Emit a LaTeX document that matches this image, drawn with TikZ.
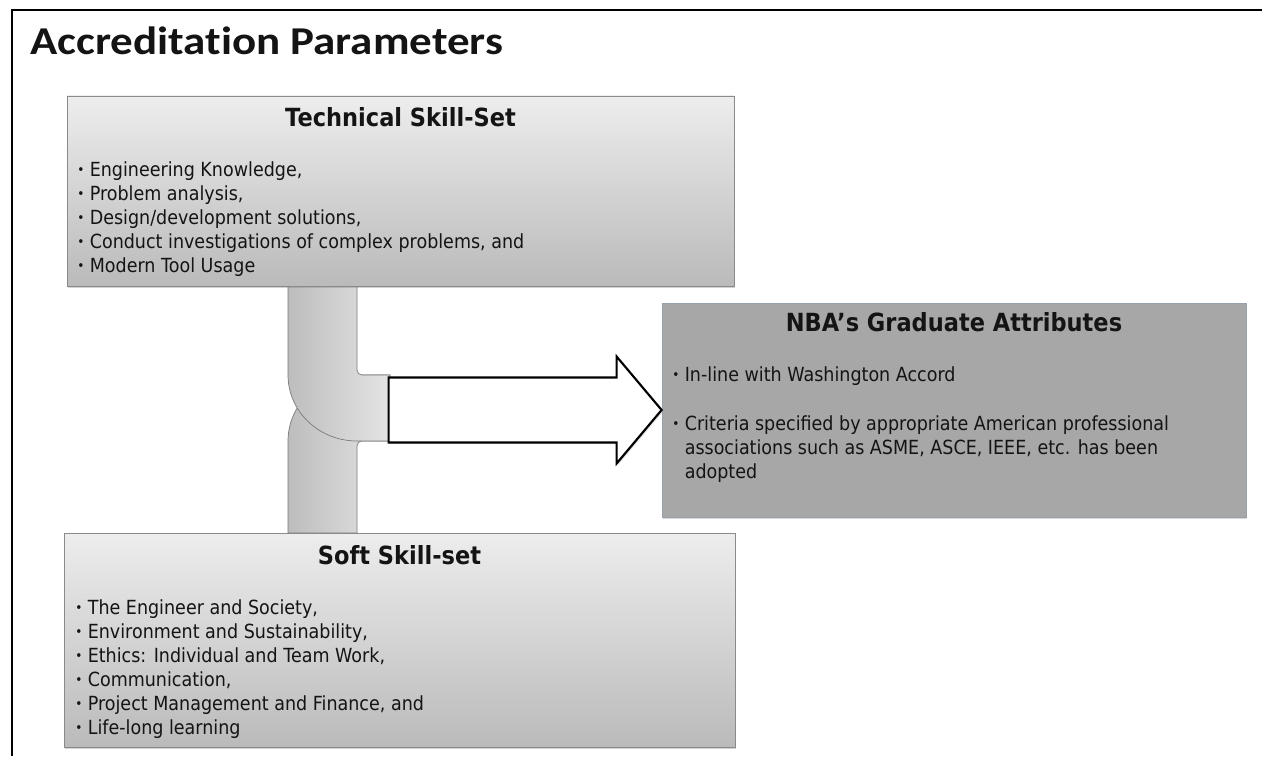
\documentclass[tikz,border=0pt]{standalone}
\usepackage{fontspec}
\setmainfont[FakeStretch=0.9]{DejaVu Sans}
\newfontfamily\titlefont[FakeStretch=1.14,Ligatures=NoCommon]{Carlito}
\usetikzlibrary{calc,shadows}

\definecolor{ink}{HTML}{141414}
\definecolor{boxtop}{HTML}{EDEDED}
\definecolor{boxbot}{HTML}{BABABA}
\definecolor{boxline}{HTML}{8A8A8A}
\definecolor{nbafill}{HTML}{A7A7A7}
\definecolor{nbaline}{HTML}{98A1AB}
\definecolor{pipedark}{HTML}{BDBDBD}
\definecolor{pipelight}{HTML}{E4E4E4}
\definecolor{pipeline}{HTML}{777777}

% small bullet in front of each list line
\newcommand{\bul}{\makebox[9.4pt][l]{\raisebox{1.3pt}{\fontsize{10}{10}\selectfont •}}}

\pgfdeclarelayer{paper}
\pgfdeclarelayer{pipes}
\pgfsetlayers{paper,pipes,main}

\tikzset{
  skillbox/.style={draw=boxline, line width=0.6pt, top color=boxtop, bottom color=boxbot,
    inner sep=0pt, drop shadow={shadow xshift=0.9pt, shadow yshift=-1.3pt, opacity=0.35}},
  nbabox/.style={draw=nbaline, line width=0.6pt, fill=nbafill, inner sep=0pt,
    drop shadow={shadow xshift=0.9pt, shadow yshift=-1.3pt, opacity=0.3}},
  heading/.style={font=\bfseries\fontsize{18.75}{22}\selectfont, text=ink, inner sep=0pt, anchor=base},
  item/.style={font=\fontsize{14.6}{17.5}\selectfont, text=ink, inner sep=0pt, anchor=base west},
  pipe/.style={draw=pipeline, line width=0.5pt, left color=pipedark, right color=pipelight},
  flow/.style={draw=black, line width=1.6pt, fill=white, line join=miter,
    drop shadow={shadow xshift=1pt, shadow yshift=-1.2pt, opacity=0.25}},
  pageframe/.style={draw=black, line width=1.5pt}
}

\begin{document}
\begin{tikzpicture}[x=0.75pt, y=-0.75pt]
  \useasboundingbox (0,0) rectangle (1262,756);
  \begin{pgfonlayer}{paper}
    \fill[white] (0,0) rectangle (1262,756);
  \end{pgfonlayer}

  % page frame
  \coordinate (frameA) at (12,756);
  \coordinate (frameB) at (12,10);
  \coordinate (frameC) at (1262,10);
  \draw[pageframe] (frameA) -- (frameB) -- (frameC);

  % title
  \node[anchor=base west, inner sep=0pt, text=ink,
        font=\titlefont\bfseries\fontsize{29.6}{34}\selectfont] (title) at (30,55) {Accreditation Parameters};

  % the three boxes
  \node[skillbox, minimum width=500.25pt, minimum height=142.5pt] (tech) at (400.5,191) {};
  \node[nbabox,   minimum width=438pt,    minimum height=160.5pt] (nba)  at (954,410) {};
  \node[skillbox, minimum width=503.25pt, minimum height=160.5pt] (soft) at (399.5,640) {};

  % technical skills
  \node[heading] (techhead) at ($(tech.north)+(0,31)$) {Technical Skill-Set};
  \foreach \txt [count=\k] in {{Engineering Knowledge,},{Problem analysis,},
      {Design/development solutions,},{Conduct investigations of complex problems, and},
      {Modern Tool Usage}}
    \node[item] (tech-\k) at (77,{176+24*(\k-1)}) {\bul\txt};

  % graduate attributes
  \node[heading] (nbahead) at ($(nba.north)+(0,29)$) {NBA’s Graduate Attributes};
  \node[item] (nba-1) at (672,381) {\bul In-line with Washington Accord};
  \node[item] (nba-2) at (672,430) {\bul Criteria specified by appropriate American professional};
  \node[item] (nba-3) at (684.5,454) {associations such as ASME, ASCE, IEEE, etc. has been};
  \node[item] (nba-4) at (684.5,478) {adopted};

  % soft skills
  \node[heading] (softhead) at ($(soft.north)+(0,32)$) {Soft Skill-set};
  \foreach \txt [count=\k] in {{The Engineer and Society,},{Environment and Sustainability,},
      {Ethics: Individual and Team Work,},{Communication,},
      {Project Management and Finance, and},{Life-long learning}}
    \node[item] (soft-\k) at (75,{614+24*(\k-1)}) {\bul\txt};

  % pipes joining both skill sets, tucked under the boxes
  \begin{pgfonlayer}{pipes}
    \draw[pipe] (288,533) -- (288,441) .. controls (288,404.5) and (318.9,375) .. (357,375)
      -- (390,375) -- (390,441) -- (362,441) .. controls (359.2,441) and (357,443.2) .. (357,446)
      -- (357,533) -- cycle;
    \draw[pipe] (288,286) -- (288,375) .. controls (288,411.5) and (318.9,441) .. (357,441)
      -- (390,441) -- (390,375) -- (362,375) .. controls (359.2,375) and (357,372.8) .. (357,370)
      -- (357,286) -- cycle;
  \end{pgfonlayer}

  % block arrow into the graduate attributes
  \draw[flow] ($(nba.west)+(-273,-32.5)$) -- ($(nba.west)+(-45,-32.5)$)
    -- ($(nba.west)+(-45,-53.5)$) -- (nba.west) -- ($(nba.west)+(-45,53.5)$)
    -- ($(nba.west)+(-45,32.5)$) -- ($(nba.west)+(-273,32.5)$) -- cycle;
\end{tikzpicture}
\end{document}
